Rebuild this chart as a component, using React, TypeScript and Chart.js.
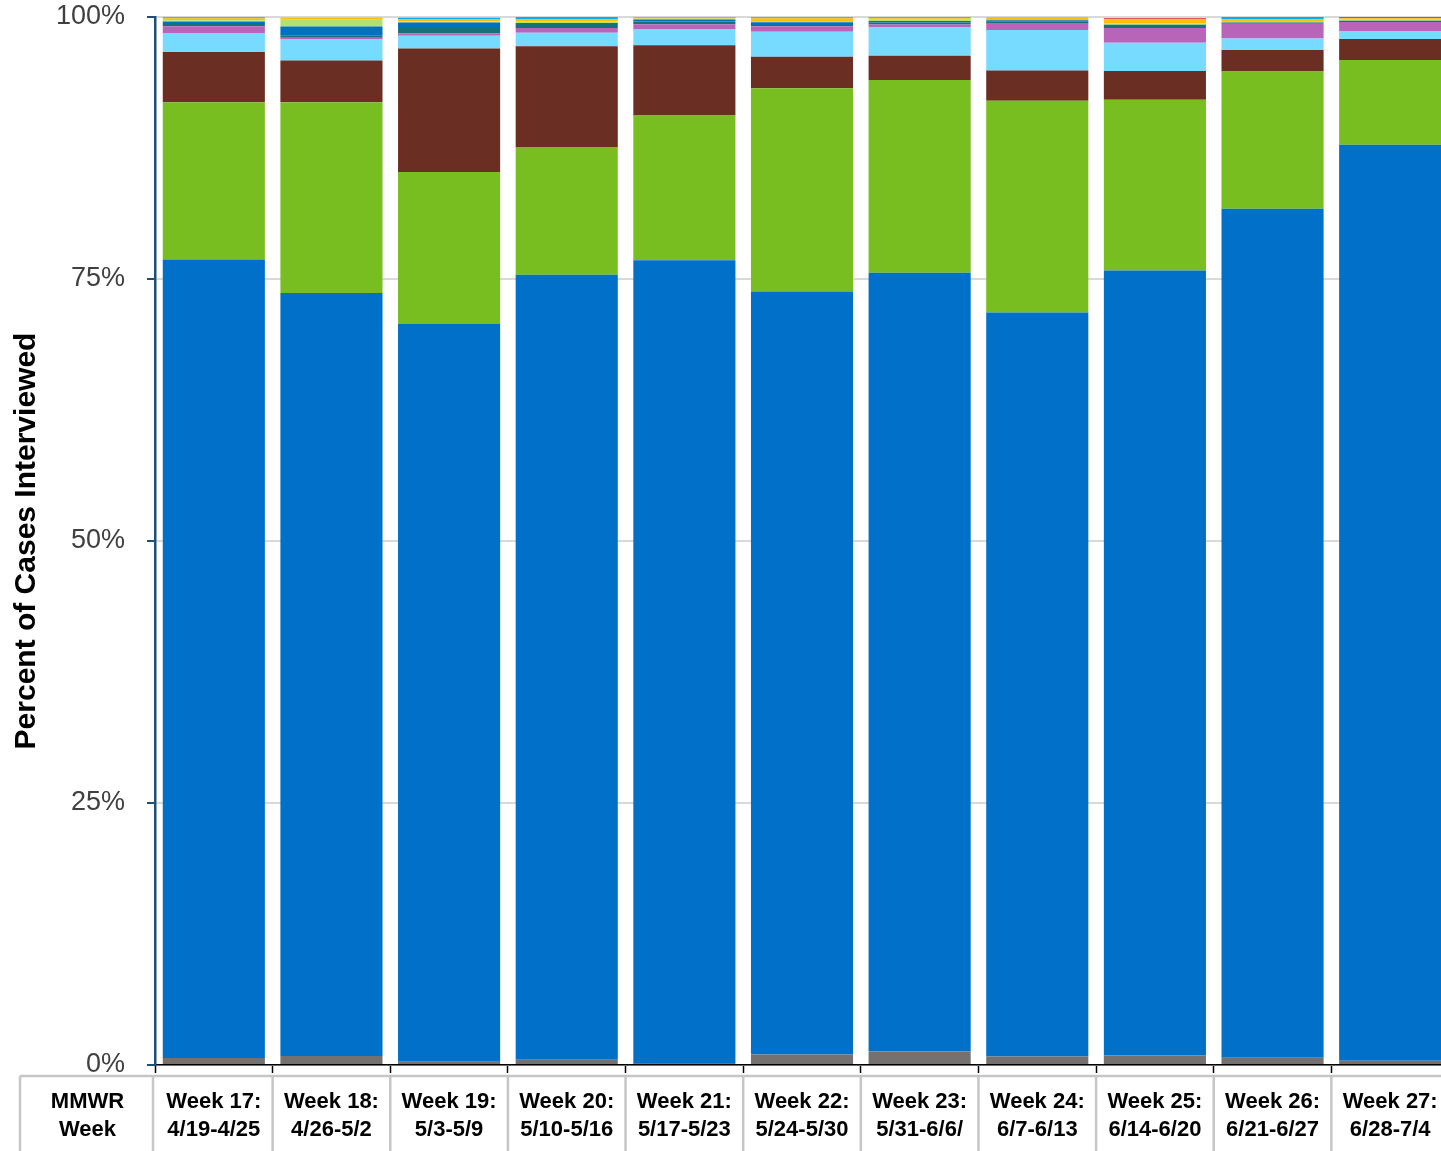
import React, { useEffect, useRef } from 'react';
import { Chart, registerables } from 'chart.js';

Chart.register(...registerables);

// ---- Data ----
const weekLabels = ['Week 17:', 'Week 18:', 'Week 19:', 'Week 20:', 'Week 21:', 'Week 22:', 'Week 23:', 'Week 24:', 'Week 25:', 'Week 26:', 'Week 27:'];
const dateRanges = ['4/19-4/25', '4/26-5/2', '5/3-5/9', '5/10-5/16', '5/17-5/23', '5/24-5/30', '5/31-6/6/', '6/7-6/13', '6/14-6/20', '6/21-6/27', '6/28-7/4'];
const yTickValues = [0, 25, 50, 75, 100];
const axisTitle = 'Percent of Cases Interviewed';
const tableHeader = ['MMWR', 'Week'];

// stacked from bottom to top (percent)
const seriesGray = [0.67, 0.86, 0.3, 0.5, 0.2, 1.0, 1.3, 0.8, 0.9, 0.7, 0.4];
const seriesBlue = [76.2, 72.8, 70.4, 74.9, 76.6, 72.8, 74.3, 71.0, 74.9, 81.0, 87.4];
const seriesGreen = [15.0, 18.2, 14.5, 12.2, 13.8, 19.4, 18.4, 20.2, 16.3, 13.1, 8.1];
const seriesBrown = [4.8, 4.0, 11.8, 9.6, 6.7, 3.0, 2.3, 2.9, 2.75, 2.05, 2.0];
const seriesLightBlue = [1.8, 2.0, 1.2, 1.3, 1.5, 2.4, 2.7, 3.85, 2.7, 1.1, 0.76];
const seriesPurple = [0.64, 0.16, 0.25, 0.45, 0.51, 0.51, 0.29, 0.67, 1.4, 1.4, 0.86];
const seriesTeal = [0.32, 0.25, 0.51, 0.38, 0.25, 0.13, 0.19, 0.13, 0.19, 0.13, 0.13];
const seriesBlue2 = [0.13, 0.83, 0.51, 0.1, 0.19, 0.25, 0.13, 0.13, 0.13, 0.0, 0.0];
const seriesLightGreen = [0.13, 0.64, 0.1, 0.16, 0.1, 0.13, 0.13, 0.0, 0.13, 0.13, 0.13];
const seriesYellow = [0.19, 0.22, 0.25, 0.22, 0.1, 0.25, 0.13, 0.32, 0.38, 0.19, 0.1];
const seriesCyan = [0.1, 0.0, 0.1, 0.22, 0.0, 0.1, 0.1, 0.0, 0.0, 0.22, 0.0];
const seriesRed = [0.0, 0.0, 0.0, 0.0, 0.06, 0.0, 0.0, 0.0, 0.1, 0.0, 0.1];

const FONT = "'Liberation Sans', Arial, sans-serif";

const tablePlugin = {
  id: 'tableGrid',
  afterDraw(chart: any) {
    const xs = chart.scales.x;
    const ctx = chart.ctx;
    const n = weekLabels.length;
    const catW = (xs.right - xs.left) / n;
    const top = xs.top + 11;
    const bottom = chart.height;
    ctx.save();
    ctx.strokeStyle = '#C6C6C6';
    ctx.lineWidth = 2.5;
    ctx.beginPath();
    ctx.moveTo(20, top);
    ctx.lineTo(chart.width, top);
    ctx.moveTo(20, top);
    ctx.lineTo(20, bottom);
    for (let i = 0; i <= n; i++) {
      const x = xs.left + i * catW - (i === 0 ? 2 : 0);
      ctx.moveTo(x, top);
      ctx.lineTo(x, bottom);
    }
    ctx.stroke();
    ctx.fillStyle = '#000';
    ctx.font = `bold 22px ${FONT}`;
    ctx.textAlign = 'center';
    ctx.textBaseline = 'middle';
    const cx = (20 + xs.left) / 2;
    ctx.fillText(tableHeader[0], cx, xs.top + 37);
    ctx.fillText(tableHeader[1], cx, xs.top + 65);
    ctx.restore();
  },
};

export default function App() {
  const ref = useRef<HTMLCanvasElement | null>(null);

  useEffect(() => {
    document.body.style.margin = '0';
    const canvas = ref.current;
    if (!canvas) return;
    const mk = (label: string, data: number[], color: string) => ({
      label,
      data,
      backgroundColor: color,
      borderWidth: 0,
      categoryPercentage: 1,
      barPercentage: 0.868,
    });
    const chart = new Chart(canvas, {
      type: 'bar',
      data: {
        labels: weekLabels.map((w, i) => [w, dateRanges[i]]),
        datasets: [
          mk('Gray', seriesGray, '#757171'),
          mk('Blue', seriesBlue, '#0070C9'),
          mk('Green', seriesGreen, '#78BE20'),
          mk('Brown', seriesBrown, '#6B2E23'),
          mk('Light blue', seriesLightBlue, '#77DAFF'),
          mk('Purple', seriesPurple, '#B864B8'),
          mk('Teal', seriesTeal, '#16717A'),
          mk('Blue 2', seriesBlue2, '#0070C0'),
          mk('Light green', seriesLightGreen, '#B0E36E'),
          mk('Yellow', seriesYellow, '#FFC000'),
          mk('Cyan', seriesCyan, '#00B0F0'),
          mk('Red', seriesRed, '#D0202A'),
        ],
      },
      options: {
        animation: false,
        responsive: false,
        maintainAspectRatio: false,
        layout: { padding: { top: 17, left: 0, right: 0, bottom: 0 } },
        plugins: {
          legend: { display: false },
          tooltip: { enabled: false },
        },
        scales: {
          x: {
            stacked: true,
            offset: true,
            grid: {
              display: true,
              drawOnChartArea: false,
              drawTicks: true,
              tickLength: 8,
              tickColor: '#000',
              tickWidth: 1.5,
              offset: true,
            },
            border: { color: '#000', width: 1.5 },
            ticks: {
              color: '#000',
              font: { family: FONT, size: 22, weight: 'bold', lineHeight: 28 / 22 },
              padding: 15,
              maxRotation: 0,
              autoSkip: false,
            },
            afterFit: (scale: any) => {
              scale.height = 86;
              scale.paddingLeft = 0;
              scale.paddingRight = 0;
            },
          },
          y: {
            stacked: true,
            min: 0,
            max: 100,
            afterBuildTicks: (scale: any) => {
              scale.ticks = yTickValues.map((v) => ({ value: v }));
            },
            ticks: {
              color: '#404040',
              font: { family: FONT, size: 27 },
              padding: 22,
              callback: (v: any) => v + '%',
            },
            grid: {
              color: '#D9D9D9',
              lineWidth: 2,
              tickColor: '#1F4E79',
              tickLength: 8,
              tickWidth: 2,
            },
            border: { color: '#1F4E79', width: 2.5 },
            title: {
              display: true,
              text: axisTitle,
              color: '#000',
              font: { family: FONT, size: 30, weight: 'bold' },
              padding: { top: 9, bottom: 0 },
            },
            afterFit: (scale: any) => {
              scale.width = 155;
              scale.paddingTop = 0;
              scale.paddingBottom = 0;
            },
          },
        },
      },
      plugins: [tablePlugin],
    } as any);
    return () => chart.destroy();
  }, []);

  return (
    <div style={{ position: 'fixed', left: 0, top: 0, width: 1441, height: 1151, overflow: 'hidden', background: '#fff' }}>
      <canvas ref={ref} width={1449} height={1151} style={{ width: 1449, height: 1151, display: 'block' }} />
    </div>
  );
}
